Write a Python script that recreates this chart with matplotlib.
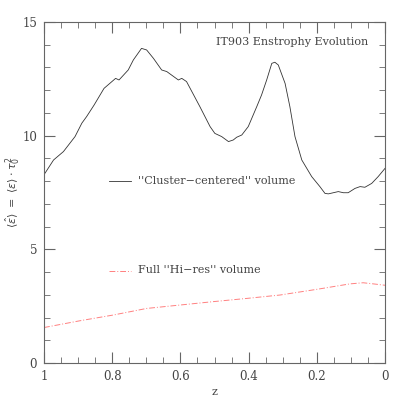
import matplotlib
matplotlib.use('Agg')
import matplotlib.pyplot as plt
from matplotlib.ticker import MultipleLocator

# cluster-centered volume (black)
z_cc = [1.0, 0.997, 0.972, 0.943, 0.909, 0.889, 0.875, 0.853, 0.824, 0.790, 0.780,
        0.753, 0.738, 0.714, 0.699, 0.679, 0.655, 0.640, 0.606, 0.596, 0.582, 0.543,
        0.513, 0.499, 0.479, 0.459, 0.445, 0.435, 0.420, 0.401, 0.376, 0.362, 0.347,
        0.332, 0.323, 0.313, 0.293, 0.279, 0.264, 0.244, 0.215, 0.191, 0.176, 0.166,
        0.137, 0.122, 0.108, 0.088, 0.073, 0.059, 0.039, 0.020, 0.0]
e_cc = [8.30, 8.35, 8.93, 9.30, 9.96, 10.55, 10.84, 11.35, 12.08, 12.52, 12.45,
        12.89, 13.33, 13.84, 13.77, 13.40, 12.89, 12.82, 12.45, 12.52, 12.38, 11.28,
        10.40, 10.10, 9.96, 9.74, 9.81, 9.93, 10.03, 10.40, 11.28, 11.79, 12.45,
        13.18, 13.23, 13.11, 12.30, 11.28, 9.96, 8.93, 8.20, 7.76, 7.46, 7.44,
        7.54, 7.49, 7.49, 7.68, 7.76, 7.73, 7.90, 8.20, 8.56]

# full hi-res volume (red)
z_hr = [1.0, 0.894, 0.797, 0.699, 0.601, 0.503, 0.406, 0.308, 0.200, 0.103,
        0.064, 0.034, 0.0]
e_hr = [1.56, 1.86, 2.11, 2.40, 2.55, 2.70, 2.84, 2.99, 3.24, 3.48,
        3.53, 3.48, 3.42]

txt = '#444444'
red = '#ff8080'
plt.rcParams['font.family'] = ['DejaVu Serif']

fig = plt.figure(figsize=(4.07, 4.07), dpi=100)
ax = fig.add_axes([44 / 407, 44 / 407, 341 / 407, 341 / 407])

ax.plot(z_cc, e_cc, color='#333333', lw=0.6)
ax.plot(z_hr, e_hr, color=red, lw=0.7, dashes=[6, 2, 1, 2])

ax.set_xlim(1, 0)
ax.set_ylim(0, 15)
ax.xaxis.set_major_locator(MultipleLocator(0.2))
ax.xaxis.set_minor_locator(MultipleLocator(0.05))
ax.yaxis.set_major_locator(MultipleLocator(5))
ax.yaxis.set_minor_locator(MultipleLocator(1))
ax.set_xticks([1, 0.8, 0.6, 0.4, 0.2, 0])
ax.set_xticklabels(['1', '0.8', '0.6', '0.4', '0.2', '0'])
ax.tick_params(which='both', direction='in', top=True, right=True,
               colors='#666666', labelcolor=txt, labelsize=8.5, pad=5)
ax.tick_params(which='major', length=8)
ax.tick_params(which='minor', length=4)
for s in ax.spines.values():
    s.set_color('#666666')
    s.set_linewidth(0.8)

ax.set_xlabel('z', color=txt, fontsize=8, labelpad=3)
ax.set_ylabel(r'$\langle\hat{\epsilon}\rangle\ =\ \langle\epsilon\rangle\cdot\tau_0^2$',
              color=txt, fontsize=8, va='center')
ax.yaxis.set_label_coords(-0.088, 0.5)

ax.text(0.95, 0.94, 'IT903 Enstrophy Evolution', transform=ax.transAxes,
        ha='right', va='center', color=txt, fontsize=8)

# legend entries drawn by hand
ax.plot([0.81, 0.745], [8.0, 8.0], color='#333333', lw=0.6)
ax.text(0.725, 8.0, "''Cluster\u2212centered'' volume", ha='left', va='center',
        color=txt, fontsize=8)
ax.plot([0.81, 0.745], [4.05, 4.05], color=red, lw=0.7, dashes=[6, 2, 1, 2])
ax.text(0.725, 4.1, "Full ''Hi\u2212res'' volume", ha='left', va='center',
        color=txt, fontsize=8)

fig.savefig('out.png', dpi=100)
